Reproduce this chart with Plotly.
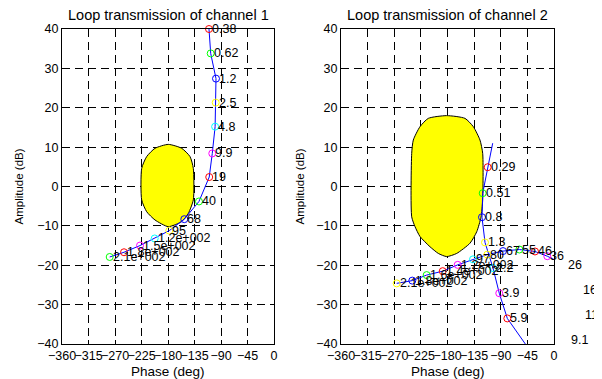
import plotly.graph_objects as go

# ---------------- data ----------------
ch1_freq = ["0.38", "0.62", "1.2", "2.5", "4.8", "9.9", "19", "40", "68", "95",
            "1.2e+002", "1.5e+002", "1.8e+002", "2.1e+002"]
ch1_phase = [-110.4, -107.5, -98.5, -99.0, -100.0, -104.8, -110.0, -127.4, -152.3,
             -177.8, -202.6, -227.5, -254.7, -279.0]
ch1_db = [40.0, 33.8, 27.4, 21.3, 15.2, 8.4, 2.4, -3.8, -8.3, -11.2, -13.2, -15.0,
          -16.7, -17.9]

ch2_freq = ["0.29", "0.51", "0.8", "1.3", "2.2", "3.9", "5.9", "9.1", "11", "16", "26",
            "36", "46", "55", "67", "80", "97", "1.2e+002", "1.4e+002", "1.6e+002",
            "1.8e+002", "2.1e+002"]
ch2_phase = [-112.1, -120.5, -121.7, -116.6, -103.1, -92.5, -78.9, 23.7, 47.3, 44.0,
             18.6, -11.3, -32.1, -58.6, -86.2, -112.7, -136.9, -162.8, -188.1, -215.2,
             -239.5, -265.9]
ch2_db = [4.9, -1.7, -7.8, -14.2, -20.7, -27.1, -33.5, -39.0, -32.6, -26.3, -19.9,
          -17.7, -16.5, -16.0, -16.4, -17.3, -18.5, -19.9, -21.5, -22.5, -23.9, -24.6]

# continuous loop curve of channel 2 (includes points between labelled frequencies)
ch2_line_phase = [-103.6, -112.1, -120.5, -121.7, -116.6, -103.1, -92.5, -78.9, -62.0,
                  -46.0, -25.0, 23.7, 47.3, 44.0, 18.6, -11.3, -32.1, -58.6, -86.2,
                  -112.7, -136.9, -162.8, -188.1, -215.2, -239.5, -265.9]
ch2_line_db = [11.0, 4.9, -1.7, -7.8, -14.2, -20.7, -27.1, -33.5, -37.2, -40.5, -45.0,
               -39.0, -32.6, -26.3, -19.9, -17.7, -16.5, -16.0, -16.4, -17.3, -18.5,
               -19.9, -21.5, -22.5, -23.9, -24.6]

# stability bounds (yellow regions), outlines
bound1_phase = [-137.0, -142.6, -156.7, -179.5, -202.1, -216.2, -224.7, -224.7, -216.2,
                -202.1, -179.5, -156.7, -145.4, -137.0, -137.0]
bound1_db = [4.6, 7.6, 9.7, 10.7, 9.7, 7.6, 4.6, -3.4, -6.4, -8.5, -10.2, -8.9, -6.8,
             -3.4, 4.6]

bound2_phase = [-120.5, -125.1, -136.4, -150.4, -181.4, -212.5, -226.5, -237.8, -240.5,
                -240.5, -234.9, -226.5, -209.6, -195.5, -181.4, -164.5, -142.0, -130.6,
                -123.4, -120.5, -120.5]
bound2_db = [8.4, 11.8, 15.2, 17.3, 18.0, 17.3, 15.2, 11.8, 8.4, -7.7, -10.2, -12.7,
             -15.3, -17.0, -17.8, -17.0, -14.4, -11.5, -7.8, -3.4, 8.4]

titles = ["Loop transmission of channel 1", "Loop transmission of channel 2"]
x_ticks = [-360, -315, -270, -225, -180, -135, -90, -45, 0]
y_ticks = [-40, -30, -20, -10, 0, 10, 20, 30, 40]
marker_colors = ["#ff0000", "#00ff00", "#0000ff", "#ffff00", "#00ffff", "#ff00ff"]

# ---------------- figure ----------------
WIN_W, WIN_H = 602, 379
OFF = 8                      # default page (body) margin of the HTML page
FW, FH = WIN_W - OFF, WIN_H - OFF
FONT = "Liberation Sans, Arial, sans-serif"


def fx(p):
    return (p - OFF) / FW


def fy(p):
    return 1 - (p - OFF) / FH


fig = go.Figure()

XMIN, XMAX = x_ticks[0], x_ticks[-1]
YMIN, YMAX = y_ticks[0], y_ticks[-1]

doms_x = [[fx(62), fx(274)], [fx(341), fx(554)]]
dom_y = [fy(344), fy(29)]

# label layers: invisible axes sharing each panel's scale but extending to the figure's
# right edge, so frequency labels beyond the phase range (as in the original) stay visible
label_axes = []
for dx in doms_x:
    ext = (1.0 - dx[1]) / (dx[1] - dx[0]) * (XMAX - XMIN)
    label_axes.append(dict(domain=[dx[0], 1.0], range=[XMIN, XMAX + ext]))

panels = [
    (ch1_freq, ch1_phase, ch1_db, ch1_phase, ch1_db, bound1_phase, bound1_db, "x", "y", "x3", "y3"),
    (ch2_freq, ch2_phase, ch2_db, ch2_line_phase, ch2_line_db, bound2_phase, bound2_db, "x2", "y2", "x4", "y4"),
]

annotations = []
for freq, ph, db, lph, ldb, bph, bdb, xa, ya, xl, yl in panels:
    fig.add_trace(go.Scatter(x=bph, y=bdb, mode="lines", fill="toself",
                             fillcolor="#ffff00",
                             line=dict(color="black", width=1, shape="spline", smoothing=0.6),
                             xaxis=xa, yaxis=ya, hoverinfo="skip"))
    fig.add_trace(go.Scatter(x=lph, y=ldb, mode="lines",
                             line=dict(color="#0000ff", width=1),
                             xaxis=xa, yaxis=ya, hoverinfo="skip"))
    inside = [i for i in range(len(ph)) if XMIN <= ph[i] <= XMAX and YMIN <= db[i] <= YMAX]
    fig.add_trace(go.Scatter(x=[ph[i] for i in inside], y=[db[i] for i in inside],
                             mode="markers", cliponaxis=False,
                             marker=dict(symbol="circle-open", size=7,
                                         color=[marker_colors[i % 6] for i in inside],
                                         line=dict(width=1)),
                             xaxis=xa, yaxis=ya, hoverinfo="skip"))
    # invisible point so the label subplot exists
    fig.add_trace(go.Scatter(x=[XMIN], y=[YMIN], mode="markers", marker=dict(opacity=0),
                             xaxis=xl, yaxis=yl, hoverinfo="skip"))
    for f, p, d in zip(freq, ph, db):
        annotations.append(dict(x=p, y=d, xref=xl, yref=yl, text=f, showarrow=False,
                                xanchor="left", yanchor="middle", xshift=1,
                                font=dict(family=FONT, size=12.5, color="black")))

# full-figure invisible axes (window pixel units) for titles and axis labels
fig.add_trace(go.Scatter(x=[WIN_W], y=[WIN_H], mode="markers", marker=dict(opacity=0),
                         xaxis="x5", yaxis="y5", hoverinfo="skip"))

axis_common = dict(showline=True, linecolor="black", linewidth=1, mirror="allticks",
                   ticks="inside", ticklen=4, tickcolor="black",
                   showgrid=True, gridcolor="black", gridwidth=1, griddash="8px,5px",
                   zeroline=False, tickangle=0, automargin=False,
                   tickfont=dict(family=FONT, size=12.5, color="black"))
hidden = dict(visible=False, showgrid=False, zeroline=False, automargin=False)

fig.update_layout(
    width=FW, height=FH, margin=dict(l=0, r=0, t=0, b=0, autoexpand=False),
    paper_bgcolor="white", plot_bgcolor="rgba(0,0,0,0)", showlegend=False,
    xaxis=dict(domain=doms_x[0], range=[XMIN, XMAX], tickvals=x_ticks, anchor="y", **axis_common),
    yaxis=dict(domain=dom_y, range=[YMIN, YMAX], tickvals=y_ticks, anchor="x", **axis_common),
    xaxis2=dict(domain=doms_x[1], range=[XMIN, XMAX], tickvals=x_ticks, anchor="y2", **axis_common),
    yaxis2=dict(domain=dom_y, range=[YMIN, YMAX], tickvals=y_ticks, anchor="x2", **axis_common),
    xaxis3=dict(anchor="y3", **label_axes[0], **hidden),
    yaxis3=dict(anchor="x3", domain=dom_y, range=[YMIN, YMAX], **hidden),
    xaxis4=dict(anchor="y4", **label_axes[1], **hidden),
    yaxis4=dict(anchor="x4", domain=dom_y, range=[YMIN, YMAX], **hidden),
    xaxis5=dict(anchor="y5", domain=[0, 1], range=[OFF, WIN_W], **hidden),
    yaxis5=dict(anchor="x5", domain=[0, 1], range=[WIN_H, OFF], **hidden),
)

for k in range(2):
    cx = [168, 447.5][k]
    lx = [18, 299][k]
    annotations.append(dict(x=cx, y=15, xref="x5", yref="y5", text=titles[k],
                            showarrow=False, xanchor="center", yanchor="middle",
                            font=dict(family=FONT, size=14.5, color="black")))
    annotations.append(dict(x=cx, y=371, xref="x5", yref="y5", text="Phase (deg)",
                            showarrow=False, xanchor="center", yanchor="middle",
                            font=dict(family=FONT, size=13.5, color="black")))
    annotations.append(dict(x=lx, y=186.5, xref="x5", yref="y5",
                            text="Amplitude (dB)", textangle=-90,
                            showarrow=False, xanchor="center", yanchor="middle",
                            font=dict(family=FONT, size=11.5, color="black")))

fig.update_layout(annotations=annotations)
fig.write_html("out.html")
